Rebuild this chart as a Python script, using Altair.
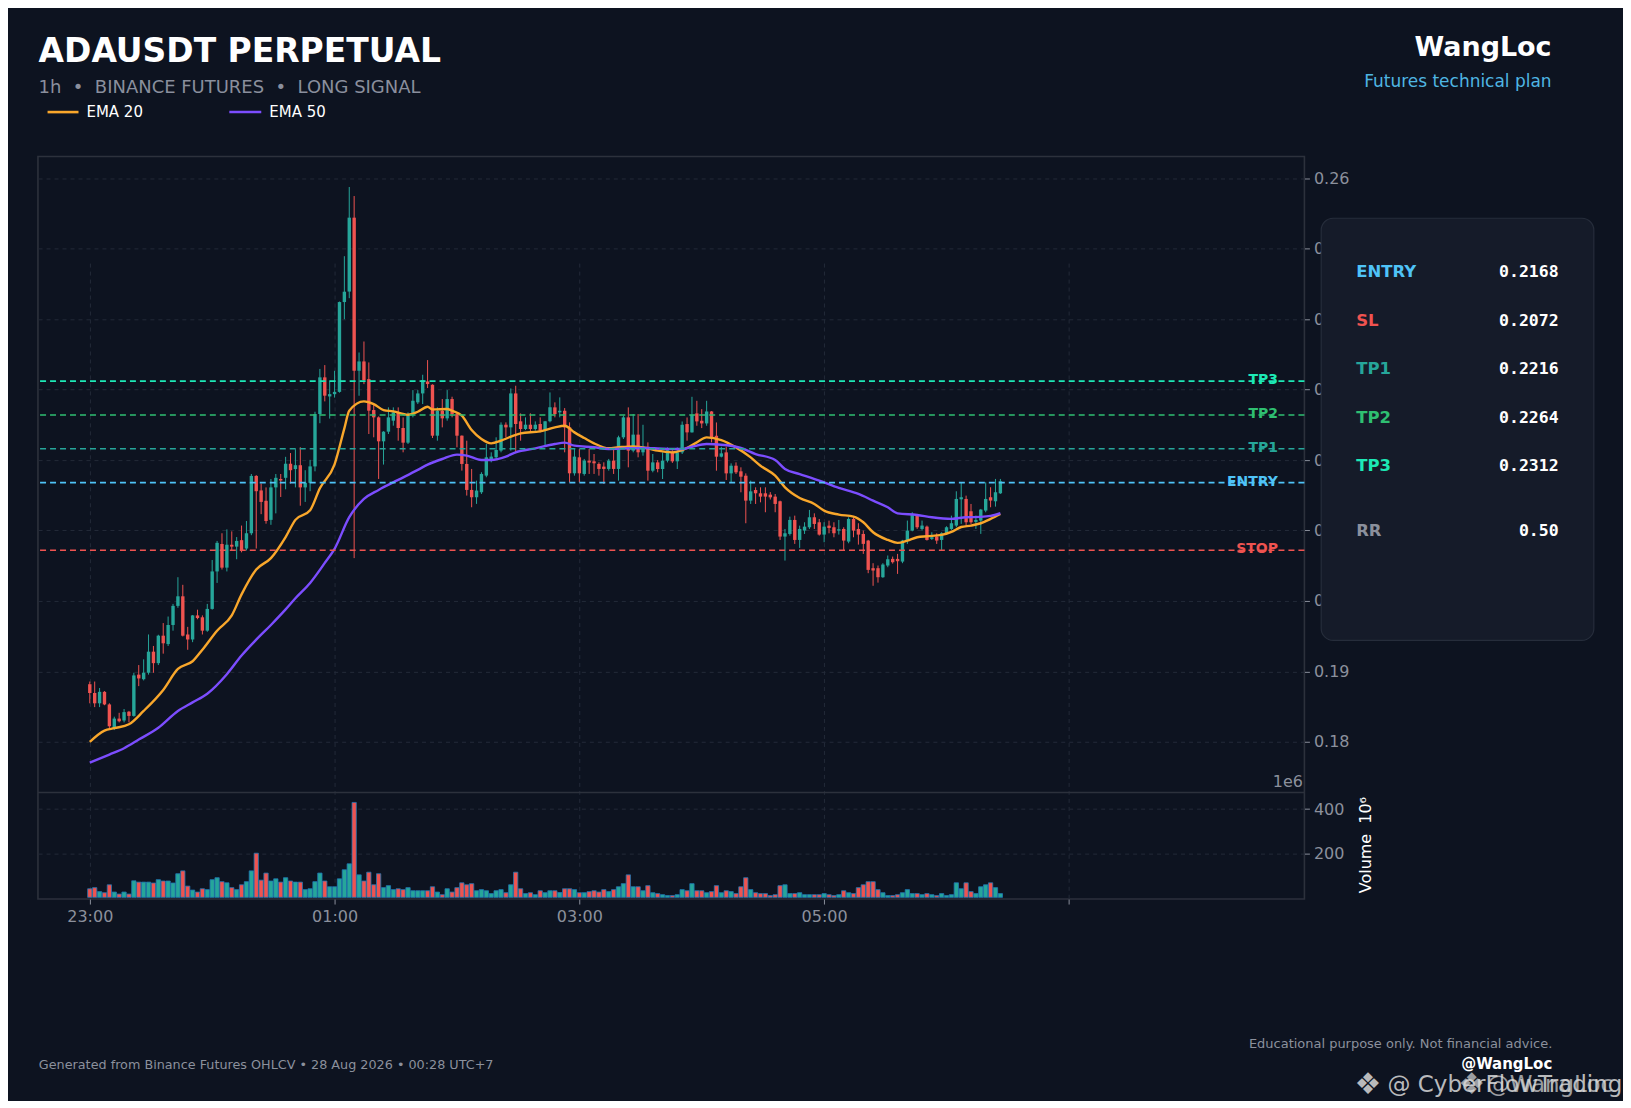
import altair as alt
import pandas as pd

# ---------------- data ----------------
tick_minutes = [0, 120, 240, 360, 480]
tick_labels = ["23:00", "01:00", "03:00", "05:00", ""]
candle_minutes = 2.4

opens = [
    .18818, .18693, .18547, .18710, .18531, .18194, .18330, .18303, .18428, .18368,
    .18954, .18889, .18981, .19280, .19117, .19507, .19388, .19659, .19930, .20066,
    .19524, .19453, .19795, .19768, .19578, .19887, .20419, .20809, .20473, .20798,
    .20771, .20863, .20744, .20961, .21775, .21569, .21422, .21151, .21612, .21731,
    .21748, .21948, .21872, .21927, .21612, .21677, .21910, .22654, .23174, .22903,
    .22936, .22968, .24243, .24392, .25441, .23268, .23400, .23149, .22710, .22606,
    .22266, .22403, .22559, .22677, .22455, .22247, .22653, .22819, .22946, .23116,
    .23069, .22346, .22700, .22592, .22866, .22653, .22346, .21945, .21576, .21472,
    .21543, .21779, .21992, .22039, .22134, .22502, .22464, .22946, .22550, .22441,
    .22502, .22441, .22512, .22417, .22550, .22748, .22677, .22700, .22464, .21812,
    .22039, .21803, .21992, .21982, .21945, .21907, .21874, .21992, .21874, .22323,
    .22606, .22134, .22361, .22110, .22189, .21849, .21967, .21873, .21991, .22109,
    .21982, .22109, .22511, .22393, .22662, .22558, .22520, .22690, .22345, .22048,
    .22109, .21811, .21920, .21840, .21778, .21424, .21575, .21528, .21528, .21509,
    .21481, .21415, .20914, .20951, .21150, .20866, .20999, .21046, .21188, .21117,
    .20942, .21069, .21046, .20999, .21022, .20843, .21164, .21022, .20951, .20857,
    .20465, .20465, .20337, .20503, .20597, .20597, .20559, .20857, .20999, .21225,
    .21022, .21055, .20881, .20914, .20866, .20951, .21022, .21070, .21443, .21448,
    .21273, .21122, .21141, .21283, .21472, .21415, .21528]

highs = [
    .18856, .18856, .18764, .18720, .18547, .18357, .18412, .18466, .18439, .18981,
    .19090, .19171, .19524, .19361, .19520, .19686, .19779, .19958, .20337, .20229,
    .19632, .19800, .19876, .19795, .19958, .20581, .20852, .20961, .21016, .20988,
    .20907, .21070, .21135, .21802, .21786, .21666, .21612, .21731, .21802, .21802,
    .22046, .22100, .22154, .22182, .21856, .22003, .22686, .23294, .23348, .23131,
    .23267, .24250, .24894, .25876, .25748, .23527, .23683, .23386, .22795, .22620,
    .22410, .22748, .22748, .22748, .22606, .22677, .22993, .22993, .23211, .23419,
    .23075, .22748, .22866, .22993, .22899, .22660, .22350, .22275, .21874, .21708,
    .21827, .22228, .22110, .22323, .22535, .22535, .23017, .23055, .22662, .22606,
    .22663, .22549, .22606, .22555, .22960, .22819, .22890, .22738, .22535, .22157,
    .22157, .22016, .22157, .22086, .21968, .21968, .22016, .22157, .22346, .22630,
    .22748, .22653, .22653, .22501, .22251, .22086, .22000, .22109, .22180, .22140,
    .22180, .22548, .22605, .22898, .22841, .22723, .22841, .22695, .22534, .22189,
    .22189, .21953, .21967, .21897, .21811, .21708, .21613, .21613, .21613, .21545,
    .21518, .21424, .21022, .21197, .21211, .21069, .21117, .21292, .21244, .21164,
    .21117, .21140, .21117, .21150, .21046, .21188, .21188, .21103, .20999, .20867,
    .20536, .20503, .20536, .20645, .20630, .20668, .20867, .21141, .21259, .21235,
    .21141, .21070, .20975, .20960, .20975, .21060, .21211, .21557, .21684, .21495,
    .21377, .21212, .21306, .21684, .21614, .21732, .21732]

lows = [
    .18547, .18493, .18493, .18520, .18194, .18167, .18276, .18276, .18276, .18357,
    .18791, .18872, .18954, .18981, .19090, .19252, .19361, .19578, .19903, .19496,
    .19307, .19415, .19740, .19524, .19562, .19876, .20256, .20446, .20419, .20717,
    .20592, .20690, .20717, .20934, .20744, .21232, .21097, .21081, .21243, .21476,
    .21585, .21666, .21612, .21352, .21406, .21558, .21840, .22523, .22833, .22589,
    .22887, .22957, .23999, .24298, .20608, .22913, .23078, .22370, .22323, .21732,
    .21936, .22370, .22488, .22275, .22110, .22228, .22606, .22795, .22795, .23022,
    .22313, .22275, .22464, .22559, .22606, .22181, .21850, .21496, .21330, .21378,
    .21519, .21756, .21968, .22016, .22110, .22323, .22134, .22110, .22275, .22426,
    .22394, .22417, .22394, .22190, .22535, .22606, .22606, .22110, .21685, .21779,
    .21685, .21779, .21803, .21803, .21779, .21661, .21850, .21803, .21708, .22299,
    .21897, .22110, .22039, .22062, .21708, .21826, .21826, .21731, .21967, .21960,
    .21873, .22086, .22275, .22390, .22487, .22454, .22487, .22251, .21849, .22038,
    .21717, .21684, .21802, .21542, .21103, .21377, .21377, .21400, .21259, .21440,
    .21259, .20866, .20573, .20928, .20810, .20753, .20951, .21022, .21022, .20928,
    .20833, .20960, .20904, .20942, .20715, .20819, .20904, .20800, .20668, .20394,
    .20215, .20260, .20328, .20479, .20530, .20384, .20536, .20810, .20989, .21022,
    .20999, .20857, .20866, .20810, .20725, .20940, .21008, .21047, .21094, .21070,
    .21094, .21023, .20952, .21259, .21330, .21339, .21519]

closes = [
    .18693, .18547, .18710, .18531, .18221, .18330, .18292, .18422, .18368, .18943,
    .18900, .18981, .19280, .19117, .19507, .19399, .19659, .19930, .20066, .19507,
    .19453, .19795, .19757, .19578, .19887, .20419, .20825, .20473, .20798, .20771,
    .20852, .20717, .20961, .21775, .21558, .21406, .21135, .21612, .21748, .21710,
    .21948, .21856, .21927, .21612, .21677, .21910, .22654, .23174, .22914, .22936,
    .22968, .24243, .24390, .25441, .23268, .23400, .23135, .22701, .22606, .22266,
    .22403, .22606, .22677, .22455, .22247, .22653, .22842, .22946, .23135, .23079,
    .22346, .22700, .22592, .22866, .22653, .22346, .21945, .21576, .21472, .21567,
    .21803, .22039, .22049, .22143, .22502, .22464, .22946, .22512, .22441, .22502,
    .22441, .22502, .22417, .22550, .22748, .22653, .22700, .22464, .21812, .22049,
    .21812, .21992, .21964, .21954, .21874, .21874, .21992, .21874, .22323, .22606,
    .22134, .22361, .22110, .22189, .21849, .21967, .21873, .21991, .22141, .21982,
    .22109, .22501, .22393, .22643, .22549, .22520, .22690, .22322, .22048, .22095,
    .21811, .21920, .21826, .21764, .21424, .21556, .21528, .21481, .21481, .21471,
    .21377, .20914, .20961, .21150, .20866, .21022, .21055, .21188, .21093, .20942,
    .21055, .21036, .20961, .21018, .20857, .21164, .20999, .20942, .20810, .20441,
    .20432, .20337, .20517, .20592, .20550, .20564, .20857, .20999, .21225, .21046,
    .21070, .20866, .20904, .20857, .20961, .21046, .21103, .21448, .21472, .21117,
    .21117, .21150, .21297, .21448, .21425, .21543, .21699]

volumes_m = [
    39, 44, 26, 21, 57, 24, 15, 24, 15, 75,
    69, 69, 69, 65, 80, 74, 74, 65, 107, 120,
    51, 33, 24, 39, 35, 80, 89, 71, 66, 44,
    35, 57, 71, 120, 200, 78, 110, 74, 84, 69,
    89, 74, 69, 69, 35, 39, 71, 110, 74, 48,
    48, 84, 125, 152, 430, 102, 74, 114, 57, 107,
    44, 53, 35, 39, 35, 44, 30, 30, 30, 30,
    48, 24, 12, 39, 24, 44, 66, 57, 62, 30,
    35, 30, 17, 30, 35, 21, 57, 114, 39, 17,
    21, 12, 30, 21, 30, 30, 22, 39, 39, 35,
    21, 21, 26, 30, 24, 35, 26, 35, 48, 62,
    102, 48, 48, 30, 53, 21, 17, 12, 8, 8,
    12, 35, 30, 62, 30, 30, 21, 26, 53, 21,
    30, 26, 17, 48, 89, 35, 21, 17, 17, 8,
    12, 53, 57, 17, 17, 21, 12, 12, 12, 12,
    17, 12, 8, 12, 30, 21, 17, 44, 57, 71,
    71, 35, 21, 8, 8, 12, 21, 35, 17, 17,
    12, 17, 12, 8, 17, 8, 12, 66, 39, 66,
    26, 17, 48, 57, 66, 44, 17]

ema20_idx = [0, 3, 5, 8, 11, 15, 18, 21, 23, 26, 29, 31, 34, 37, 40, 42, 45, 47, 50, 52,
             53, 56, 58, 60, 62, 65, 67, 69, 70, 73, 74, 76, 78, 80, 82, 84, 86, 88, 92, 95,
             97, 99, 101, 103, 106, 108, 111, 114, 116, 119, 121, 124, 126, 129, 132, 135,
             137, 140, 142, 145, 148, 150, 153, 156, 158, 160, 163, 165, 167, 169, 171, 174,
             176, 178, 180, 182, 184, 186]
ema20_val = [.18000, .18160, .18194, .18249, .18439, .18737, .19035, .19144, .19307, .19578,
             .19795, .20093, .20446, .20608, .20907, .21151, .21287, .21600, .21940, .22450,
             .22700, .22833, .22795, .22710, .22691, .22644, .22686, .22757, .22719, .22724,
             .22700, .22630, .22426, .22299, .22237, .22275, .22332, .22379, .22408, .22464,
             .22488, .22393, .22313, .22237, .22167, .22181, .22195, .22167, .22133, .22109,
             .22142, .22251, .22322, .22284, .22180, .22038, .21920, .21778, .21613, .21462,
             .21377, .21282, .21226, .21197, .21117, .20975, .20866, .20824, .20857, .20904,
             .20918, .20937, .20980, .21050, .21070, .21103, .21165, .21235]

ema50_idx = [0, 4, 7, 10, 14, 18, 21, 24, 28, 31, 34, 37, 40, 42, 45, 48, 50, 53, 56, 59,
             63, 67, 69, 72, 75, 77, 80, 82, 85, 87, 91, 95, 97, 99, 103, 106, 110, 113, 116,
             119, 121, 123, 126, 129, 133, 136, 140, 142, 145, 149, 153, 157, 160, 163, 165,
             169, 172, 176, 179, 182, 184, 186]
ema50_val = [.17704, .17820, .17909, .18032, .18200, .18439, .18560, .18683, .18960, .19225,
             .19450, .19659, .19880, .20039, .20256, .20540, .20740, .21189, .21448, .21576,
             .21718, .21860, .21935, .22015, .22077, .22063, .22001, .22001, .22049, .22110,
             .22167, .22228, .22247, .22204, .22181, .22157, .22167, .22171, .22165, .22156,
             .22156, .22189, .22227, .22218, .22171, .22086, .22001, .21873, .21802, .21708,
             .21604, .21519, .21424, .21330, .21244, .21221, .21188, .21165, .21188, .21193,
             .21207, .21245]

level_names = ["TP3", "TP2", "TP1", "ENTRY", "STOP"]
level_prices = [0.2312, 0.2264, 0.2216, 0.2168, 0.2072]

panel_names = ["ENTRY", "SL", "TP1", "TP2", "TP3", "RR"]
panel_values = ["0.2168", "0.2072", "0.2216", "0.2264", "0.2312", "0.50"]

price_ticks = [0.18, 0.19, 0.20, 0.21, 0.22, 0.23, 0.24, 0.25, 0.26]
volume_ticks = [200, 400]

# ---------------- styling ----------------
BG = "#0d1320"
PANEL = "#151b29"
PANEL_STROKE = "#262d3b"
FRAME = "#2c313c"
GRID = "#232a38"
LABEL = "#8b909c"
UP = "#26a69a"
DOWN = "#ef5350"
EMA20_C = "#f9a72b"
EMA50_C = "#7c4dff"
LEVEL_COLORS = ["#1de9b6", "#2fbf71", "#26a69a", "#4fc3f7", "#ef5350"]
PANEL_COLORS = ["#4fc3f7", "#ef5350", "#26a69a", "#2fbf71", "#1de9b6", "#8b909c"]
FONT = "DejaVu Sans"
MONO = "DejaVu Sans Mono"

W = 1268.1
H = 743.5
PRICE_H = 636.8

# ---------------- tables ----------------
n = len(opens)
candles = pd.DataFrame({
    "t": [i * candle_minutes for i in range(n)],
    "open": opens, "high": highs, "low": lows, "close": closes,
    "volume": volumes_m,
})
candles["dir"] = ["up" if c >= o else "down" for o, c in zip(opens, closes)]

ema = pd.concat([
    pd.DataFrame({"t": [i * candle_minutes for i in ema20_idx], "v": ema20_val, "s": "EMA 20"}),
    pd.DataFrame({"t": [i * candle_minutes for i in ema50_idx], "v": ema50_val, "s": "EMA 50"}),
])
levels = pd.DataFrame({"name": level_names, "price": level_prices})
ONE = pd.DataFrame({"k": [0]})

label_expr = " : ".join(
    f"datum.value == {m} ? '{lab}'" for m, lab in zip(tick_minutes, tick_labels)
) + " : ''"

x_enc = alt.X(
    "t:Q",
    scale=alt.Scale(domain=[-25.41, 595.45], nice=False, zero=False, padding=0),
    axis=alt.Axis(values=tick_minutes, labelExpr=label_expr, title=None, grid=True,
                  gridDash=[4, 4], gridColor=GRID, gridWidth=1, domain=False,
                  tickColor=LABEL, tickSize=5, labelColor=LABEL, labelFontSize=16,
                  labelFont=FONT, labelPadding=4),
)

price_scale = alt.Scale(domain=[0.17281, 0.26309], range=[PRICE_H, 0], nice=False, zero=False)
price_axis = alt.Axis(orient="right", values=price_ticks, format=".2f", title=None, grid=True,
                      gridDash=[4, 4], gridColor=GRID, domain=False, tickColor=LABEL,
                      tickSize=5, labelColor=LABEL, labelFontSize=16, labelFont=FONT,
                      labelPadding=4)
vol_scale = alt.Scale(domain=[-7.7, 475], range=[H, PRICE_H], nice=False, zero=False)
vol_axis = alt.Axis(orient="right", values=volume_ticks, title=None, grid=True,
                    gridDash=[4, 4], gridColor=GRID, domain=False, tickColor=LABEL,
                    tickSize=5, labelColor=LABEL, labelFontSize=16, labelFont=FONT,
                    labelPadding=4)


def dir_color():
    return alt.Color("dir:N", scale=alt.Scale(domain=["up", "down"], range=[UP, DOWN]),
                     legend=None)


base = alt.Chart(candles)
wicks = base.mark_rule(strokeWidth=1).encode(
    x=x_enc, y=alt.Y("low:Q", scale=price_scale, axis=price_axis), y2="high:Q",
    color=dir_color())
bodies = base.mark_bar(size=3.4).encode(
    x=x_enc, y=alt.Y("open:Q", scale=price_scale, axis=price_axis), y2="close:Q",
    color=dir_color())
ema_lines = alt.Chart(ema).mark_line(strokeWidth=2.4, interpolate="monotone").encode(
    x=x_enc, y=alt.Y("v:Q", scale=price_scale, axis=price_axis),
    color=alt.Color("s:N", scale=alt.Scale(domain=["EMA 20", "EMA 50"],
                                           range=[EMA20_C, EMA50_C]), legend=None))


def lvl_color():
    return alt.Color("name:N", scale=alt.Scale(domain=level_names, range=LEVEL_COLORS),
                     legend=None)


lvl_text = alt.Chart(levels).mark_text(align="right", baseline="middle", fontSize=14,
                                        fontWeight="bold", font=FONT, dy=-1).encode(
    x=alt.value(1241.6), y=alt.Y("price:Q", scale=price_scale, axis=price_axis),
    text="name:N", color=lvl_color())
lvl_rules = alt.Chart(levels).mark_rule(strokeWidth=1.6, strokeDash=[6, 4]).encode(
    y=alt.Y("price:Q", scale=price_scale, axis=price_axis), color=lvl_color())

price_layer = alt.layer(wicks, bodies, ema_lines, lvl_text, lvl_rules).resolve_scale(
    color="independent")

vol_bars = base.mark_bar(size=4.3, stroke="#1f77b4", strokeWidth=0.8).encode(
    x=x_enc, y=alt.Y("volume:Q", scale=vol_scale, axis=vol_axis), y2=alt.datum(0),
    color=dir_color())
sep = alt.Chart(ONE).mark_rule(color=FRAME, strokeWidth=1.6).encode(
    y=alt.datum(475))
vol_layer = alt.layer(vol_bars, sep)


def txt(text, x, y, size, color, weight="normal", align="left", baseline="middle",
        font=FONT, angle=0, opacity=1.0):
    return alt.Chart(ONE).mark_text(
        text=text, align=align, baseline=baseline, fontSize=size, font=font,
        fontWeight=weight, color=color, angle=angle, opacity=opacity,
    ).encode(x=alt.value(x), y=alt.value(y))


def hline(x1, x2, y, color, width):
    return alt.Chart(ONE).mark_rule(color=color, strokeWidth=width).encode(
        x=alt.value(x1), x2=alt.value(x2), y=alt.value(y))


decor = [
    # whole-canvas bounds (invisible)
    alt.Chart(ONE).mark_rect(fill=BG, opacity=0).encode(
        x=alt.value(-29.4), x2=alt.value(1585.6), y=alt.value(-147.5), y2=alt.value(944.5)),
    # header
    txt("ADAUSDT PERPETUAL", 0.6, -94.5, 33, "#ffffff", "bold", baseline="alphabetic"),
    txt("1h\u00a0\u00a0•\u00a0\u00a0BINANCE FUTURES\u00a0\u00a0•\u00a0\u00a0LONG SIGNAL",
        0.6, -63.5, 18, "#8a8f9d", baseline="alphabetic"),
    hline(9.6, 40.6, -44.5, EMA20_C, 2.6),
    txt("EMA 20", 48.6, -44.5, 15, "#ffffff"),
    hline(191.6, 223.6, -44.5, EMA50_C, 2.6),
    txt("EMA 50", 231.6, -44.5, 15, "#ffffff"),
    txt("WangLoc", 1515.6, -100.5, 27, "#ffffff", "bold", align="right", baseline="alphabetic"),
    txt("Futures technical plan", 1515.6, -69.5, 17, "#4fb6e3", align="right",
        baseline="alphabetic"),
    # volume annotations
    txt("1e6", 1266.6, 626.5, 16, LABEL, align="right"),
    txt("Volume\u00a0\u00a010\u2076", 1329.6, 689.5, 16, "#ffffff", align="center", angle=270),
    # info panel
    alt.Chart(ONE).mark_rect(fill=PANEL, stroke=PANEL_STROKE, strokeWidth=1.2,
                             cornerRadius=12).encode(
        x=alt.value(1284.9), x2=alt.value(1557.9), y=alt.value(61.8), y2=alt.value(484.5)),
]
row_y = [115.5, 164.5, 213.2, 261.8, 310.2, 375.2]
for name, val, col, yy in zip(panel_names, panel_values, PANEL_COLORS, row_y):
    decor.append(txt(name, 1319.9, yy, 16.5, col, "bold"))
    decor.append(txt(val, 1522.6, yy, 16.5, "#ffffff", "bold", align="right", font=MONO))

decor += [
    txt("Generated from Binance Futures OHLCV • 28 Aug 2026 • 00:28 UTC+7",
        0.9, 909.5, 12.8, LABEL),
    txt("Educational purpose only. Not financial advice.", 1516.3, 888.5, 13, LABEL,
        align="right"),
    txt("@WangLoc", 1516.3, 908.5, 15, "#ffffff", "bold", align="right"),
    # watermark overlays
    txt("\u2756", 1331.6, 929.5, 30, "#d8d8d8", align="center", opacity=0.85),
    txt("@ CyberFlowTrading", 1351.3, 929.5, 23, "#d8d8d8", opacity=0.85),
    txt("\u2756", 1435.6, 929.5, 30, "#d8d8d8", align="center", opacity=0.7),
    txt("@WangLoc", 1450.6, 929.5, 23, "#d8d8d8", opacity=0.7),
]

chart = alt.layer(price_layer, vol_layer, *decor).resolve_scale(
    y="independent", color="independent"
).properties(
    width=W, height=H, padding=0
).configure(
    background=BG
).configure_view(
    stroke=FRAME, strokeWidth=1.6
)

chart.save("out.html", embed_options={"renderer": "svg", "actions": False})
